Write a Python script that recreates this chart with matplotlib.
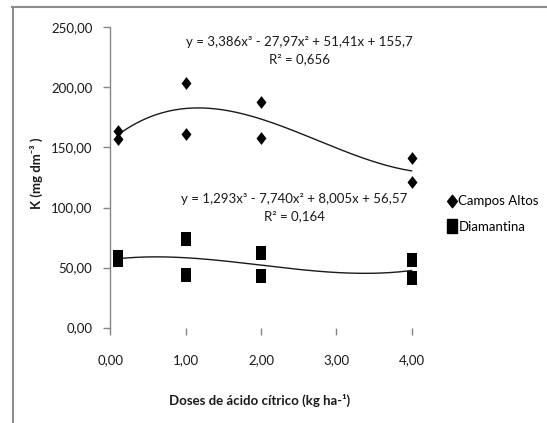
import numpy as np
import matplotlib
matplotlib.use("Agg")
import matplotlib.pyplot as plt
from matplotlib.lines import Line2D
from matplotlib.path import Path

# ---- data ----
campos_x = [0.1, 0.1, 1, 1, 2, 2, 4, 4]
campos_y = [164, 157, 204, 161, 188, 158, 141, 121]
diam_x = [0.1, 0.1, 1, 1, 2, 2, 4, 4]
diam_y = [59, 56, 74, 44, 62, 43, 56, 41]
campos_coef = [3.386, -27.97, 51.41, 155.7]
diam_coef = [1.293, -7.740, 8.005, 56.57]
x_ticks = [0, 1, 2, 3, 4]
y_ticks = [0, 50, 100, 150, 200, 250]
series_names = ["Campos Altos", "Diamantina"]
eq1 = "y = 3,386x³ - 27,97x² + 51,41x + 155,7\nR² = 0,656"
eq2 = "y = 1,293x³ - 7,740x² + 8,005x + 56,57\nR² = 0,164"

W, H = 547, 423
plt.rcParams['font.family'] = ['Lato', 'DejaVu Sans']
fig = plt.figure(figsize=(W / 100, H / 100), dpi=100)

TXT = "#1a1a1a"
FS = 9.5

# outer frame lines (top and left)
fig.add_artist(Line2D([12 / W, 1], [1 - 7.5 / H, 1 - 7.5 / H], color="#8c8c8c", lw=1.5))
fig.add_artist(Line2D([12.5 / W, 12.5 / W], [0, 1 - 7.5 / H], color="#8c8c8c", lw=1.5))

x0, px_unit = 110.4, 75.3
y0, py_unit = 327.5, 1.2
xmax = 4.6
left = x0 / W
width = xmax * px_unit / W
bottom = (H - y0) / H
height = 250 * py_unit / H
ax = fig.add_axes([left, bottom, width, height])
ax.set_xlim(0, xmax)
ax.set_ylim(0, 250)
for s in ["top", "right", "bottom"]:
    ax.spines[s].set_visible(False)
ax.spines["left"].set_color("#868686")
ax.spines["left"].set_linewidth(1.0)
ax.set_xticks(x_ticks)
ax.set_yticks(y_ticks)
ax.set_xticklabels([f"{v:.2f}".replace(".", ",") for v in x_ticks])
ax.set_yticklabels([f"{v:.2f}".replace(".", ",") for v in y_ticks])
ax.tick_params(axis="both", colors="#868686", labelcolor=TXT, labelsize=FS,
               length=5, width=1.0, direction="out")
ax.tick_params(axis="x", pad=14)
ax.tick_params(axis="y", pad=8)

diamond = Path([(0, 1), (0.78, 0), (0, -1), (-0.78, 0), (0, 1)],
               [Path.MOVETO, Path.LINETO, Path.LINETO, Path.LINETO, Path.CLOSEPOLY])
rect = Path([(-0.68, -1), (0.68, -1), (0.68, 1), (-0.68, 1), (-0.68, -1)],
            [Path.MOVETO, Path.LINETO, Path.LINETO, Path.LINETO, Path.CLOSEPOLY])

xs = np.linspace(0.1, 4, 200)
ax.plot(xs, np.polyval(campos_coef, xs), color="#1a1a1a", lw=1.0, zorder=2)
ax.plot(xs, np.polyval(diam_coef, xs), color="#1a1a1a", lw=1.0, zorder=2)
ax.scatter(campos_x, campos_y, marker=diamond, s=85, color="black", zorder=3, linewidths=0)
ax.scatter(diam_x, diam_y, marker=rect, s=112, color="black", zorder=3, linewidths=0)

ax.text(2.51, 231, eq1, ha="center", va="center", fontsize=FS, color=TXT,
        linespacing=1.5)
ax.text(2.44, 100, eq2, ha="center", va="center", fontsize=FS, color=TXT,
        linespacing=1.55)

ax.set_xlabel("Doses de ácido cítrico (kg ha-¹)", fontsize=FS, fontweight="bold",
              color=TXT)
ax.xaxis.set_label_coords((260 - x0) / (width * W), -(394 - y0) / (height * H))
fig.text(36 / W, 1 - 173 / H, "K (mg dm⁻³ )", rotation=90, ha="center", va="center",
         fontsize=FS, fontweight="bold", color=TXT)

handles = [Line2D([], [], marker=diamond, ls="", color="black", markersize=9),
           Line2D([], [], marker=rect, ls="", color="black", markersize=10)]
fig.legend(handles, series_names, loc="center left", bbox_to_anchor=(440 / W, 1 - 214 / H),
           frameon=False, fontsize=FS, handletextpad=0.1, handlelength=0.8,
           labelspacing=1.0, borderpad=0)

fig.savefig("out.png", dpi=100)
